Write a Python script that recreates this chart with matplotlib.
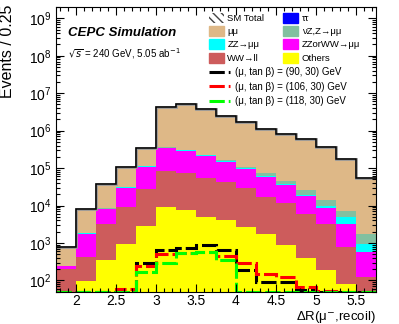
import numpy as np
import matplotlib
matplotlib.use("Agg")
import matplotlib.pyplot as plt
from matplotlib.patches import Patch
from matplotlib.lines import Line2D
from matplotlib.ticker import MultipleLocator, FormatStrFormatter, LogLocator

plt.rcParams["font.family"] = ["Liberation Sans", "DejaVu Sans"]

# -----------------------------
# Data
# -----------------------------

bin_edges = np.arange(1.75, 5.76, 0.25)

others = [30, 94, 360, 960, 2800, 8900, 7600, 5000, 4070, 2700, 1700, 900, 390, 185, 78, 30]
ww_ll = [167, 326, 2940, 7940, 24700, 73100, 68400, 51000, 38900, 26300, 15300, 10500, 5410, 3115, 722, 90]
zz_or_ww_mumu = [40, 1360, 4550, 20100, 82500, 258000, 214000, 154000, 105000, 67000, 42000, 23600, 12000, 5100, 2500, 455]
zz_mumu = [6, 100, 400, 1400, 4500, 13000, 10000, 8000, 4000, 4000, 4000, 2000, 1200, 1200, 1700, 385]
nuz_mumu = [2, 20, 80, 300, 1000, 3000, 3000, 3000, 8000, 5000, 9000, 9000, 7000, 4200, 2300, 820]
mumu = [505, 6375, 28600, 78600, 224000, 3840000, 4800000, 3580000, 2240000, 1555000, 1030000, 764000, 564000, 356000, 168000, 53000]
tautau = [30, 5, 10, 20, 50, 100, 100, 100, 100, 100, 100, 100, 100, 100, 100, 50]

sig_90 = [0, 0, 0, 0, 290, 640, 750, 870, 640, 185, 90, 90, 55, 0, 0, 0]
sig_106 = [0, 0, 0, 60, 250, 520, 540, 560, 440, 290, 150, 120, 66, 52, 0, 0]
sig_118 = [0, 0, 0, 0, 167, 290, 540, 575, 345, 0, 0, 0, 0, 0, 0, 0]

y_major_ticks = [1e2, 1e3, 1e4, 1e5, 1e6, 1e7, 1e8, 1e9]

Y_MIN = 50
Y_MAX = 2e9

# -----------------------------
# Stack (bottom -> top)
# -----------------------------

stack = [
  ("Others", others, "#ffff00"),
  ("WW\u2192ll", ww_ll, "#cd5c5c"),
  ("ZZorWW\u2192\u03bc\u03bc", zz_or_ww_mumu, "#ff00ff"),
  ("ZZ\u2192\u03bc\u03bc", zz_mumu, "#00ffff"),
  ("\u03bdZ,Z\u2192\u03bc\u03bc", nuz_mumu, "#82c0a0"),
  ("\u03bc\u03bc", mumu, "#deb887"),
  ("\u03c4\u03c4", tautau, "#0000ff"),
]

cum = np.cumsum([np.array(v, dtype=float) for _, v, _ in stack], axis=0)
total = cum[-1]

fig = plt.figure(figsize=(3.99, 3.24), dpi=100)
ax = fig.add_axes([56 / 399, 32.3 / 324, 320 / 399, 284.7 / 324])
ax.set_yscale("log")

# draw from the top layer down so lower layers sit on top
for i in range(len(stack) - 1, -1, -1):
  ax.stairs(cum[i], bin_edges, baseline=1, fill=True,
            color=stack[i][2], lw=0)

# SM total line with a thin grey outline
ax.stairs(total, bin_edges, baseline=None, color="#999999", lw=2.0)
ax.stairs(total, bin_edges, baseline=None, color="black", lw=1.1)

# signals (green drawn last, on top)
dash = (0, (5, 1.3))
for vals, col in [(sig_90, "black"), (sig_106, "#ff0000"), (sig_118, "#00ff00")]:
  v = np.maximum(np.array(vals, dtype=float), Y_MIN)
  ax.stairs(v, bin_edges, baseline=None, color=col, lw=2.2, linestyle=dash)

ax.set_xlim(1.75, 5.75)
ax.set_ylim(Y_MIN, Y_MAX)

# -----------------------------
# Axes style (ROOT-like)
# -----------------------------

ax.xaxis.set_major_locator(MultipleLocator(0.5))
ax.xaxis.set_minor_locator(MultipleLocator(0.1))
ax.xaxis.set_major_formatter(FormatStrFormatter("%g"))
ax.set_yticks(y_major_ticks)
ax.yaxis.set_minor_locator(LogLocator(base=10, subs=np.arange(2, 10), numticks=20))

ax.tick_params(which="both", direction="in", top=True, right=True, labelsize=10)
ax.tick_params(which="major", length=5.5, width=0.8)
ax.tick_params(which="minor", length=3, width=0.8)
ax.tick_params(axis="x", pad=2)
ax.tick_params(axis="y", pad=3)
for s in ax.spines.values():
  s.set_linewidth(0.8)

ax.set_ylabel("Events / 0.25", fontsize=11.5, loc="top")
ax.yaxis.set_label_coords(-0.128, 1.007)
ax.set_xlabel("\u0394R(\u03bc$^{-}$,recoil)", fontsize=9.5, loc="right")
ax.xaxis.set_label_coords(1.0, -0.06)

ax.text(0.0375, 0.909, "CEPC Simulation", transform=ax.transAxes,
        fontsize=9.5, fontweight="bold", fontstyle="italic", va="center")
ax.text(0.0375, 0.838, r"$\sqrt{s}$ = 240 GeV, 5.05 ab$^{-1}$",
        transform=ax.transAxes, fontsize=7, va="center")

# -----------------------------
# Legends
# -----------------------------

bkg_handles = [
  Patch(facecolor="white", edgecolor="#444444", hatch="\\\\\\\\", lw=0, label="SM Total"),
  Patch(color=stack[5][2], label=stack[5][0]),
  Patch(color=stack[3][2], label=stack[3][0]),
  Patch(color=stack[1][2], label=stack[1][0]),
  Patch(color=stack[6][2], label=stack[6][0]),
  Patch(color=stack[4][2], label=stack[4][0]),
  Patch(color=stack[2][2], label=stack[2][0]),
  Patch(color=stack[0][2], label=stack[0][0]),
]
leg1 = ax.legend(handles=bkg_handles, ncol=2, loc="upper left",
                 bbox_to_anchor=(0.46, 1.0), frameon=False, fontsize=6.8,
                 handlelength=1.55, handleheight=1.25, handletextpad=0.4,
                 labelspacing=0.33, columnspacing=2.0, borderaxespad=0.2)
ax.add_artist(leg1)

sig_handles = [
  Line2D([], [], color="black", lw=2.2, linestyle=dash,
         label="(\u03bc, tan \u03b2) = (90, 30) GeV"),
  Line2D([], [], color="#ff0000", lw=2.2, linestyle=dash,
         label="(\u03bc, tan \u03b2) = (106, 30) GeV"),
  Line2D([], [], color="#00ff00", lw=2.2, linestyle=dash,
         label="(\u03bc, tan \u03b2) = (118, 30) GeV"),
]
ax.legend(handles=sig_handles, loc="upper left", bbox_to_anchor=(0.46, 0.81),
          frameon=False, fontsize=7, handlelength=2.2, handletextpad=0.5,
          labelspacing=0.48, borderaxespad=0.2)

fig.savefig("out.png", dpi=100)
plt.close(fig)
